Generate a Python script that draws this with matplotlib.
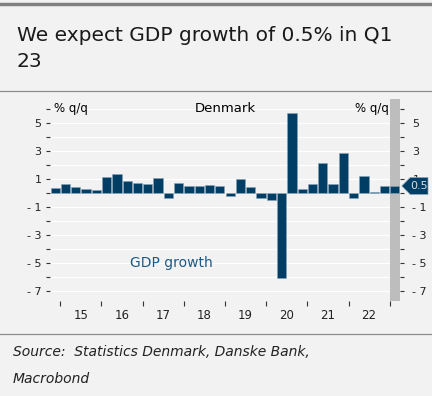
import matplotlib
matplotlib.use("Agg")
import matplotlib.pyplot as plt
import matplotlib.transforms as mtransforms
from matplotlib.lines import Line2D
from matplotlib.patches import Polygon

# quarterly GDP growth, 2014Q4 .. 2023Q1 (last one is the forecast)
gdp_growth = [0.33, 0.67, 0.45, 0.29, 0.21, 1.14, 1.33, 0.86, 0.71, 0.64,
              1.10, -0.36, 0.74, 0.50, 0.50, 0.60, 0.48, -0.24, 0.98, 0.43,
              -0.33, -0.48, -6.07, 5.67, 0.26, 0.67, 2.17, 0.62, 2.88, -0.38,
              1.24, 0.10, 0.52, 0.50]
year_labels = ["15", "16", "17", "18", "19", "20", "21", "22"]
y_ticks = list(range(-7, 7))

BG = "#f2f2f2"
BAR = "#003e65"
FONT = "DejaVu Sans"
plt.rcParams["font.family"] = FONT

fig = plt.figure(figsize=(4.32, 3.96), dpi=100, facecolor=BG)
ax = fig.add_axes([50 / 432, 1 - 300.7 / 396, 350 / 432, (300.7 - 99.3) / 396])
ax.set_facecolor(BG)

x = list(range(len(gdp_growth)))
ax.axvspan(x[-1] - 0.5, x[-1] + 0.5, color="#bdbdbd", lw=0, zorder=1)
for v in y_ticks:
    ax.axhline(v, color="white", lw=0.9, zorder=0.5)
ax.bar(x, gdp_growth, width=0.9, color=BAR, edgecolor="#8aa3b8", linewidth=0.4, zorder=3)

ax.set_xlim(-0.5, len(gdp_growth) - 0.5)
ax.set_ylim(-7.67, 6.67)
for s in ax.spines.values():
    s.set_visible(False)

def fmt(v):
    if v % 2 == 0:
        return ""
    return f"- {abs(v)}" if v < 0 else str(v)

ax.set_yticks(y_ticks)
ax.set_yticklabels([fmt(v) for v in y_ticks])
ax.tick_params(axis="y", direction="out", length=3, width=0.8, color="#333333",
               labelsize=8, pad=3, labelcolor="#222222")

# year boundaries (major) and year labels (minor)
ax.set_xticks([i + 0.5 for i in range(0, len(gdp_growth) - 1, 4)])
ax.set_xticklabels([])
ax.set_xticks([i + 2.5 for i in range(0, 4 * len(year_labels), 4)], minor=True)
ax.set_xticklabels(year_labels, minor=True)
ax.tick_params(axis="x", which="major", direction="out", length=3.5, width=0.8, color="#333333")
ax.tick_params(axis="x", which="minor", length=0, labelsize=8.5, pad=6, labelcolor="#222222")

ax2 = ax.twinx()
ax2.set_ylim(ax.get_ylim())
ax2.set_yticks(y_ticks)
ax2.set_yticklabels([fmt(v) for v in y_ticks])
ax2.tick_params(axis="y", direction="out", length=3, width=0.8, color="#333333",
                labelsize=8, pad=6, labelcolor="#222222")
for s in ax2.spines.values():
    s.set_visible(False)

ax.text(0.01, 6, "% q/q", fontsize=8.5, va="center", ha="left",
        transform=mtransforms.blended_transform_factory(ax.transAxes, ax.transData))
ax.text(0.5, 6, "Denmark", fontsize=9.5, va="center", ha="center",
        transform=mtransforms.blended_transform_factory(ax.transAxes, ax.transData))
ax.text(x[-1] - 0.55, 6, "% q/q", fontsize=8.5, va="center", ha="right")
ax.text(7.3, -5, "GDP growth", fontsize=10, va="center", ha="left", color="#1f5a85")

# last value tag on the right axis
last = gdp_growth[-1]
tr = mtransforms.blended_transform_factory(ax2.transAxes, ax2.transData)
tag = Polygon([(1.005, last), (1.029, last + 0.6), (1.08, last + 0.6),
               (1.08, last - 0.6), (1.029, last - 0.6)], closed=True,
              transform=tr, clip_on=False, facecolor=BAR, edgecolor="#8aa3b8",
              lw=0.5, zorder=10)
ax2.add_patch(tag)
ax2.text(1.055, last, f"{last:.1f}", transform=tr, color="#dddddd", fontsize=8,
         ha="center", va="center", zorder=11, clip_on=False)

# frame lines and texts of the card
fig.add_artist(Line2D([0, 1], [1 - 3.5 / 396] * 2, transform=fig.transFigure, color="#808080", lw=2.5))
fig.add_artist(Line2D([0, 1], [1 - 90.7 / 396] * 2, transform=fig.transFigure, color="#8c8c8c", lw=0.9))
fig.add_artist(Line2D([0, 1], [1 - 334.3 / 396] * 2, transform=fig.transFigure, color="#8c8c8c", lw=0.9))

fig.text(17 / 432, 1 - 26 / 396, "We expect GDP growth of 0.5% in Q1\n23", fontsize=14.5,
         ha="left", va="top", color="#1a1a1a", linespacing=1.45)
fig.text(13 / 432, 1 - 345 / 396, "Source:  Statistics Denmark, Danske Bank,\nMacrobond",
         fontsize=10, style="italic", ha="left", va="top", color="#222222", linespacing=2.15)

fig.savefig("out.png", dpi=100, facecolor=BG)
